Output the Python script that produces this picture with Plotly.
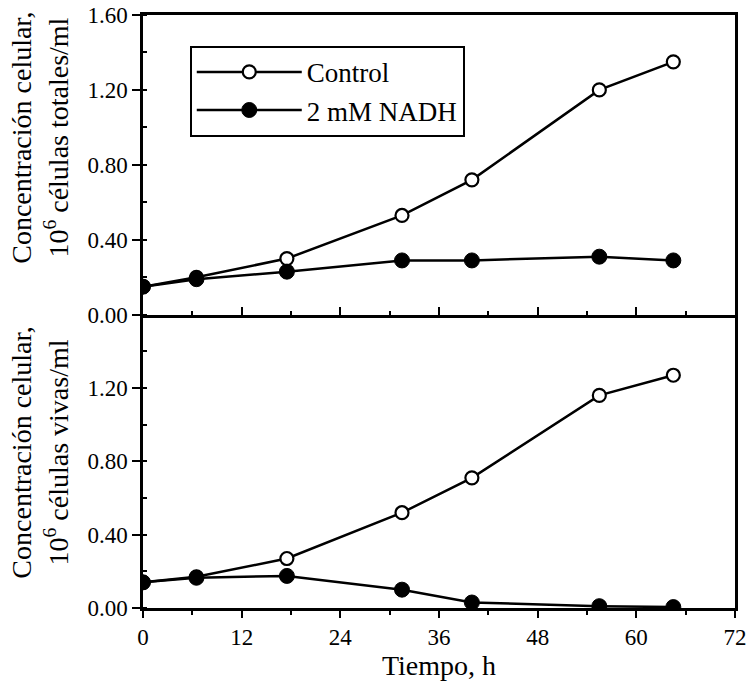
import plotly.graph_objects as go

# Data (time in hours)
tiempo = [0, 6.5, 17.5, 31.5, 40, 55.5, 64.5]
totales_control = [0.15, 0.20, 0.30, 0.53, 0.72, 1.20, 1.35]
totales_nadh = [0.15, 0.19, 0.23, 0.29, 0.29, 0.31, 0.29]
vivas_control = [0.14, 0.17, 0.27, 0.52, 0.71, 1.16, 1.27]
vivas_nadh = [0.14, 0.165, 0.175, 0.10, 0.03, 0.01, 0.005]

x_ticks = [0, 12, 24, 36, 48, 60, 72]
y_ticks_top = [0.0, 0.4, 0.8, 1.2, 1.6]
y_ticks_bottom = [0.0, 0.4, 0.8, 1.2]

FONT = "Liberation Serif"
open_marker = dict(symbol="circle", size=13, color="white", line=dict(color="black", width=2.2))
filled_marker = dict(symbol="circle", size=15, color="black", line=dict(color="black", width=1))
line_style = dict(color="black", width=2.5)

fig = go.Figure()
# top panel
fig.add_trace(go.Scatter(x=tiempo, y=totales_control, mode="lines+markers", name="Control",
                         line=line_style, marker=open_marker, xaxis="x2", yaxis="y2"))
fig.add_trace(go.Scatter(x=tiempo, y=totales_nadh, mode="lines+markers", name="2 mM NADH",
                         line=line_style, marker=filled_marker, xaxis="x2", yaxis="y2"))
# bottom panel
fig.add_trace(go.Scatter(x=tiempo, y=vivas_control, mode="lines+markers", name="Control",
                         line=line_style, marker=open_marker, xaxis="x", yaxis="y", showlegend=False))
fig.add_trace(go.Scatter(x=tiempo, y=vivas_nadh, mode="lines+markers", name="2 mM NADH",
                         line=line_style, marker=filled_marker, xaxis="x", yaxis="y", showlegend=False))

split = 0.4945
axis_common = dict(showline=True, linecolor="black", linewidth=2.5, showgrid=False, zeroline=False,
                   automargin=False,
                   tickcolor="black", tickwidth=2, tickfont=dict(family=FONT, size=23, color="black"))

fig.update_layout(
    width=747, height=681,
    margin=dict(l=143, r=12, t=15, b=72.5),
    paper_bgcolor="white", plot_bgcolor="white",
    font=dict(family=FONT, color="black"),
    showlegend=True,
    legend=dict(x=0.079, y=0.948, xanchor="left", yanchor="top",
                bordercolor="black", borderwidth=2, bgcolor="white",
                font=dict(family=FONT, size=27, color="black"),
                itemwidth=105, tracegroupgap=0),
    xaxis=dict(**axis_common, domain=[0, 1], anchor="y", range=[0, 72],
               tickvals=x_ticks, ticks="outside", ticklen=7, mirror=False,
               minor=dict(dtick=6, tick0=0, ticks="outside", ticklen=4, tickcolor="black", tickwidth=2),
               title=dict(text="Tiempo, h", font=dict(family=FONT, size=28, color="black"), standoff=0)),
    yaxis=dict(**axis_common, domain=[0, split], anchor="x", range=[0, 1.6],
               tickvals=y_ticks_bottom, tickformat=".2f", ticks="outside", ticklen=8, mirror=True,
               minor=dict(dtick=0.2, tick0=0, ticks="inside", ticklen=4, tickcolor="black", tickwidth=2)),
    xaxis2=dict(**axis_common, domain=[0, 1], anchor="y2", matches="x", range=[0, 72],
                tickvals=x_ticks, ticks="inside", ticklen=8, showticklabels=False, mirror=True,
                minor=dict(dtick=6, tick0=0, ticks="inside", ticklen=4, tickcolor="black", tickwidth=2)),
    yaxis2=dict(**axis_common, domain=[split, 1], anchor="x2", range=[0, 1.6],
                tickvals=y_ticks_top, tickformat=".2f", ticks="outside", ticklen=8, mirror=True,
                minor=dict(dtick=0.2, tick0=0, ticks="inside", ticklen=4, tickcolor="black", tickwidth=2)),
    annotations=[
        dict(text="Concentración celular,<br>10<sup>6</sup> células totales/ml", textangle=-90,
             xref="paper", yref="paper", x=-0.174, y=0.793, xanchor="center", yanchor="middle",
             showarrow=False, font=dict(family=FONT, size=28, color="black")),
        dict(text="Concentración celular,<br>10<sup>6</sup> células vivas/ml", textangle=-90,
             xref="paper", yref="paper", x=-0.174, y=0.262, xanchor="center", yanchor="middle",
             showarrow=False, font=dict(family=FONT, size=28, color="black")),
    ],
)

fig.write_html("out.html")
